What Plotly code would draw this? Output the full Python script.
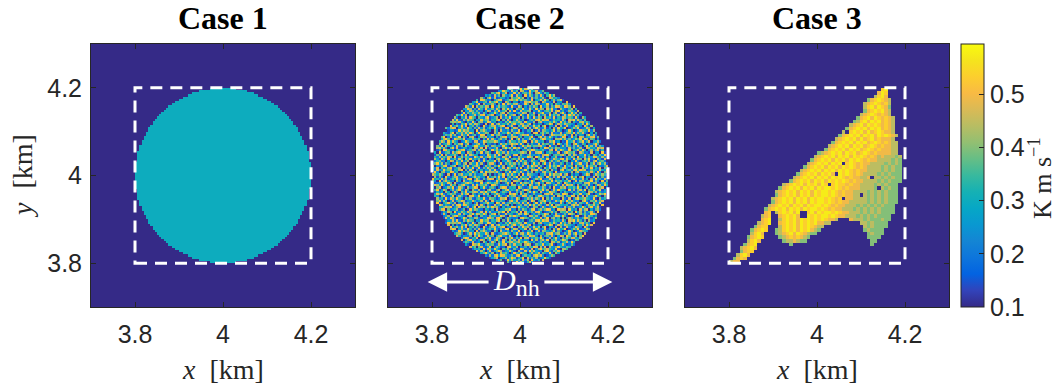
import numpy as np
import plotly.graph_objects as go

# ---------------------------------------------------------------- data ----
CASE_TITLES = ["Case 1", "Case 2", "Case 3"]
X_TICKS = [3.8, 4.0, 4.2]
X_TICK_TEXT = ["3.8", "4", "4.2"]
CBAR_TICKS = [0.1, 0.2, 0.3, 0.4, 0.5]
CBAR_TICK_TEXT = ["0.1", "0.2", "0.3", "0.4", "0.5"]

CMIN, CMAX = 0.1, 0.595          # colour limits (K m s^-1)
BACKGROUND = 0.1                 # flux outside the heated patch
CASE1_VALUE = 0.30               # uniform flux inside the disc

NH_CENTER = 4.0                  # km, centre of the heated disc
NH_DIAMETER = 0.4                # km, D_nh
BOX = [3.8, 4.2]                 # km, dashed analysis box
ARROW_TIPS = [3.79, 4.21]        # km, ends of the D_nh arrow
ARROW_TAILS = [3.932, 4.052]     # km, where the arrow meets the label
ARROW_Y = 3.757                  # km

# Case 2: flux levels indexed by the digits of the noise tile
NOISE_LEVELS = [0.100, 0.147, 0.194, 0.241, 0.288,
                0.335, 0.382, 0.429, 0.476, 0.523]
NOISE_TILE = [
    "3819027465 1930748256 0472916385 7205381964",
    "5042718396 8261039475 9318502746 1649270358",
    "7261583049 4705928163 2649371058 8302916475",
    "0938461275 3189604725 7150829364 5917043862",
    "6483902157 0574291386 4893617205 2068349715",
    "2175349860 9628150347 1306482579 4753186290",
    "8906215734 2417893056 5784023196 3829507641",
    "4357860921 7893046512 8025391674 0196472835",
    "1520437698 5346217809 3961758402 9574813026",
    "9684172503 1052984637 6437280915 2481069573",
    "3012958746 6784309215 0279543861 7635294108",
    "7849306152 2917562480 9516827043 1302857469",
    "5263791084 8435017692 4028139756 6974120385",
    "0591624837 3169845207 7843605192 8415736029",
    "8725043691 0692738514 1390476825 3051689247",
    "4136879250 5428103976 6751298043 9267410538",
    "6974512308 9057461823 2814935760 0738254961",
    "2308965147 4381590672 5067214398 6189503742",
    "9651230874 7206834159 8495062317 4523971086",
    "1487396025 2635970418 3128759604 7906128354",
    "5719084362 8940125736 0653481927 2347690815",
    "3062751489 1573698240 9786320541 5081347692",
    "8395426017 6028413597 4210967385 9672051438",
    "0246173958 3751284906 7549183062 1835926704",
    "6572839104 9184607352 1837025694 4097182563",
    "4813560297 0467935128 5962471830 8254630179",
    "2960147583 7519062843 3085649217 6413879025",
    "7134982650 4896251370 8673902154 0729513846",
    "9508374126 2340786915 6291538470 3586241097",
    "1627405839 5082149763 0417286953 7940365281",
    "3841697502 1659370284 9542713068 2168047935",
    "5096213748 8437516092 2768049315 6302798154",
    "7253840961 3706924158 4189365720 9851432607",
    "0419576382 6925087431 7304192586 4673015829",
    "8762031495 0148653927 5629870143 1295867340",
    "2385769014 7591238604 3048516279 8047329516",
    "6907452831 4863095172 8175634092 5739280461",
    "4170928653 2034719586 6912347805 0316592748",
    "9548316270 5217846309 1453082967 7684105293",
    "1632594087 9385160724 0796251438 3921748650",
]

# Case 3: flux map over the dashed box (50 x 50 cells, top row = y 4.2 km)
# '.' = background, '1'..'5' = levels below
CASE3_LEVELS = {"1": 0.400, "2": 0.445, "3": 0.495, "4": 0.535, "5": 0.575}
CASE3_ROWS = [
    "." * 43 + "45" + "." * 5,
    "." * 42 + "354" + "." * 5,
    "." * 41 + "2453" + "." * 5,
    "." * 39 + "1345432" + "." * 4,
    "." * 38 + "23454342" + "." * 4,
    "." * 38 + "24535431" + "." * 4,
    "." * 38 + "13454532" + "." * 4,
    "." * 37 + "234543432" + "." * 4,
    "." * 36 + "13453543432" + "." * 3,
    "." * 35 + "124535453432" + "." * 3,
    "." * 34 + "2345354543432" + "." * 3,
    "." * 33 + "13454535453432" + "." * 3,
    "." * 32 + "2.4545353454332" + "." * 3,
    "." * 31 + "13454535453545432" + "." * 2,
    "." * 30 + "23454535345343332" + "." * 3,
    "." * 29 + "1345453545345434322" + "." * 2,
    "." * 28 + "23454535453454343322" + "." * 2,
    "." * 27 + "134545354534543433322" + "." * 2,
    "." * 25 + "12345453545345434333322" + "." * 2,
    "." * 24 + "2345453545354543432322212" + "." * 1,
    "." * 23 + "13454535453545434332222121" + "." * 1,
    "." * 22 + "2345453545.4543433222212121" + "." * 1,
    "." * 21 + "1345453545354543432222121211" + "." * 1,
    "." * 20 + "23454535453545434332222121211" + "." * 1,
    "." * 19 + "13454535453.545434322221212111" + "." * 1,
    "." * 18 + "2345453545354543433223.22121211" + "." * 1,
    "." * 17 + "13454535453545454343322221212111" + "." * 1,
    "." * 15 + "2345453545354.4544343322221212111" + "." * 2,
    "." * 14 + "1345453545354554543433322221.21211" + "." * 2,
    "." * 13 + "23454535453545545434332222121212111" + "." * 2,
    "." * 13 + "134545354535455454343322.2121212111" + "." * 2,
    "." * 12 + "23454535453545545434.332222121212111" + "." * 2,
    "." * 12 + "134545354535455454343322222121212111" + "." * 2,
    "." * 11 + "234545354535455454343322212121212111" + "." * 3,
    "." * 10 + "1345453545354554543433222121212121111" + "." * 3,
    "." * 10 + "34" + "." + "2454535" + ".." + "4535455454332221212121111" + "." * 3,
    "." * 9 + "234" + ".." + "345453" + ".." + "545455454332221212121111" + "." * 4,
    "." * 9 + "345" + ".." + "24545354545454332" + "..." + "322212111211" + "." * 4,
    "." * 8 + "2345" + ".." + "345453545453322" + "." * 8 + "22121111" + "." * 5,
    "." * 7 + "1344" + "..." + "2454535454322" + "." * 11 + "2121111" + "." * 5,
    "." * 6 + "13454" + ".." + "1245453545321" + "." * 12 + "121111" + "." * 6,
    "." * 6 + "2453" + "..." + "123453543211" + "." * 14 + "12111" + "." * 6,
    "." * 5 + "13454" + "...." + "123434321" + "." * 16 + "1111" + "." * 7,
    "." * 5 + "2453" + "." * 6 + "1223211" + "." * 18 + "11" + "." * 8,
    "." * 4 + "1345" + "." * 9 + "1" + "." * 22 + "1" + "." * 9,
    "." * 3 + "23453" + "." * 42,
    "." * 3 + "1344" + "." * 43,
    "." * 2 + "2453" + "." * 44,
    "." * 1 + "1343" + "." * 45,
    "233" + "." * 47,
]

# MATLAB parula colormap
PARULA = [
    (0.208, 0.166, 0.529), (0.196, 0.264, 0.728), (0.012, 0.388, 0.882),
    (0.050, 0.459, 0.864), (0.079, 0.520, 0.831), (0.034, 0.597, 0.820),
    (0.023, 0.653, 0.777), (0.084, 0.693, 0.706), (0.218, 0.725, 0.619),
    (0.395, 0.746, 0.524), (0.571, 0.749, 0.449), (0.718, 0.741, 0.390),
    (0.851, 0.730, 0.336), (0.974, 0.731, 0.267), (0.988, 0.807, 0.179),
    (0.960, 0.895, 0.113), (0.976, 0.983, 0.054),
]
colorscale = [[i / (len(PARULA) - 1),
               "rgb(%d,%d,%d)" % tuple(round(255 * c) for c in rgb)]
              for i, rgb in enumerate(PARULA)]

# ------------------------------------------------------------- fields ----
# model grid for the disc cases (5 m cells over 3.7 - 4.3 km)
n_fine = 120
cell = 0.6 / n_fine
xf = 3.7 + cell * (np.arange(n_fine) + 0.5)
XF, YF = np.meshgrid(xf, xf)
inside = (XF - NH_CENTER) ** 2 + (YF - NH_CENTER) ** 2 <= (NH_DIAMETER / 2) ** 2

z1 = np.where(inside, CASE1_VALUE, BACKGROUND)

tile = np.array([[int(ch) for ch in row.replace(" ", "")] for row in NOISE_TILE])
nt = tile.shape[0]
I, J = np.meshgrid(np.arange(n_fine), np.arange(n_fine), indexing="ij")
bi, bj = I // nt, J // nt
li, lj = (I % nt + 17 * bi) % nt, (J % nt + 23 * bj) % nt
digits = np.where((bi + bj) % 2 == 0, tile[li, lj], tile[lj, li])
z2 = np.where(inside, np.array(NOISE_LEVELS)[digits], BACKGROUND)

# coarse grid for case 3 (8 m cells, box padded with background)
n_box = len(CASE3_ROWS)
c3 = (BOX[1] - BOX[0]) / n_box
pad = 13
n3 = n_box + 2 * pad
x3 = BOX[0] - pad * c3 + c3 * (np.arange(n3) + 0.5)
box_vals = np.array([[CASE3_LEVELS.get(ch, BACKGROUND)
                      for ch in row[:n_box].ljust(n_box, ".")]
                     for row in CASE3_ROWS])
z3 = np.full((n3, n3), BACKGROUND)
z3[pad:pad + n_box, pad:pad + n_box] = np.flipud(box_vals)

# -------------------------------------------------------------- figure ----
W, H = 1056, 388
TXT = "#262626"
SANS = "Liberation Sans"
SERIF = "Liberation Serif"

x_domains = [(91 / W, 355 / W), (388 / W, 652 / W), (685 / W, 949 / W)]
y_domain = (1 - 307 / H, 1 - 44 / H)

fig = go.Figure()
for k, (xs, z) in enumerate([(xf, z1), (xf, z2), (x3, z3)]):
    fig.add_trace(go.Heatmap(
        x=xs, y=xs, z=z, coloraxis="coloraxis",
        xaxis="x" if k == 0 else "x%d" % (k + 1),
        yaxis="y" if k == 0 else "y%d" % (k + 1),
        hoverinfo="skip",
    ))

axis_common = dict(
    range=[3.7, 4.3], tickvals=X_TICKS, ticktext=X_TICK_TEXT,
    ticks="inside", ticklen=5, tickwidth=1, tickcolor=TXT,
    showline=True, linecolor=TXT, linewidth=1, mirror="ticks",
    showgrid=False, zeroline=False, fixedrange=True,
    tickfont=dict(family=SANS, size=25, color=TXT),
)

layout = dict(
    width=W, height=H,
    margin=dict(l=0, r=0, t=0, b=0, autoexpand=False),
    paper_bgcolor="white", plot_bgcolor="rgb(53,42,135)",
    showlegend=False,
    coloraxis=dict(
        cmin=CMIN, cmax=CMAX, colorscale=colorscale,
        colorbar=dict(
            x=961 / W, xanchor="left", y=1 - 307 / H, yanchor="bottom",
            len=263 / H, lenmode="fraction",
            thickness=23, thicknessmode="pixels", xpad=0, ypad=0,
            outlinewidth=1, outlinecolor=TXT,
            tickvals=CBAR_TICKS, ticktext=CBAR_TICK_TEXT,
            ticks="inside", ticklen=5, tickcolor=TXT,
            tickfont=dict(family=SANS, size=25, color=TXT),
        ),
    ),
)
for k in range(3):
    sx = "" if k == 0 else str(k + 1)
    layout["xaxis" + sx] = dict(axis_common, domain=x_domains[k],
                                anchor="y" + sx, ticklabelstandoff=5)
    layout["yaxis" + sx] = dict(axis_common, domain=y_domain,
                                anchor="x" + sx, showticklabels=(k == 0),
                                ticklabelstandoff=3)
fig.update_layout(**layout)

annotations = []
shapes = []
for k in range(3):
    sx = "" if k == 0 else str(k + 1)
    cx = (x_domains[k][0] + x_domains[k][1]) / 2
    annotations.append(dict(
        text="<b>%s</b>" % CASE_TITLES[k], x=cx, y=1 - 18 / H,
        xref="paper", yref="paper", xanchor="center", yanchor="middle",
        showarrow=False,
        font=dict(family=SERIF, size=32, color="black"),
    ))
    annotations.append(dict(
        text="<i>x</i>\u00a0\u00a0[km]", x=cx, y=1 - 369 / H,
        xref="paper", yref="paper", xanchor="center", yanchor="middle",
        showarrow=False,
        font=dict(family=SERIF, size=28, color=TXT),
    ))
    shapes.append(dict(
        type="rect", xref="x" + sx, yref="y" + sx,
        x0=BOX[0], x1=BOX[1], y0=BOX[0], y1=BOX[1],
        line=dict(color="white", width=3, dash="12px,8px"),
    ))

annotations.append(dict(
    text="<i>y</i>\u00a0\u00a0[km]", x=23 / W, y=1 - 176 / H,
    xref="paper", yref="paper", xanchor="center", yanchor="middle",
    showarrow=False, textangle=-90,
    font=dict(family=SERIF, size=28, color=TXT),
))
annotations.append(dict(
    text="K m s<sup>\u22121</sup>", x=1040 / W, y=1 - 179 / H,
    xref="paper", yref="paper", xanchor="center", yanchor="middle",
    showarrow=False, textangle=-90,
    font=dict(family=SERIF, size=26, color=TXT),
))

# D_nh double arrow in the Case 2 panel
for tip, tail in zip(ARROW_TIPS, ARROW_TAILS):
    annotations.append(dict(
        x=tip, y=ARROW_Y, ax=tail, ay=ARROW_Y,
        xref="x2", yref="y2", axref="x2", ayref="y2",
        text="", showarrow=True, arrowhead=2, arrowsize=1.3,
        arrowwidth=3, arrowcolor="white", standoff=0, startstandoff=0,
    ))
annotations.append(dict(
    text="<i>D</i><sub><span style='font-size:24px'>nh</span></sub>",
    x=sum(ARROW_TAILS) / 2, y=ARROW_Y,
    xref="x2", yref="y2", xanchor="center", yanchor="middle",
    showarrow=False,
    font=dict(family=SERIF, size=30, color="white"),
))

fig.update_layout(annotations=annotations, shapes=shapes)
fig.write_html("out.html")
